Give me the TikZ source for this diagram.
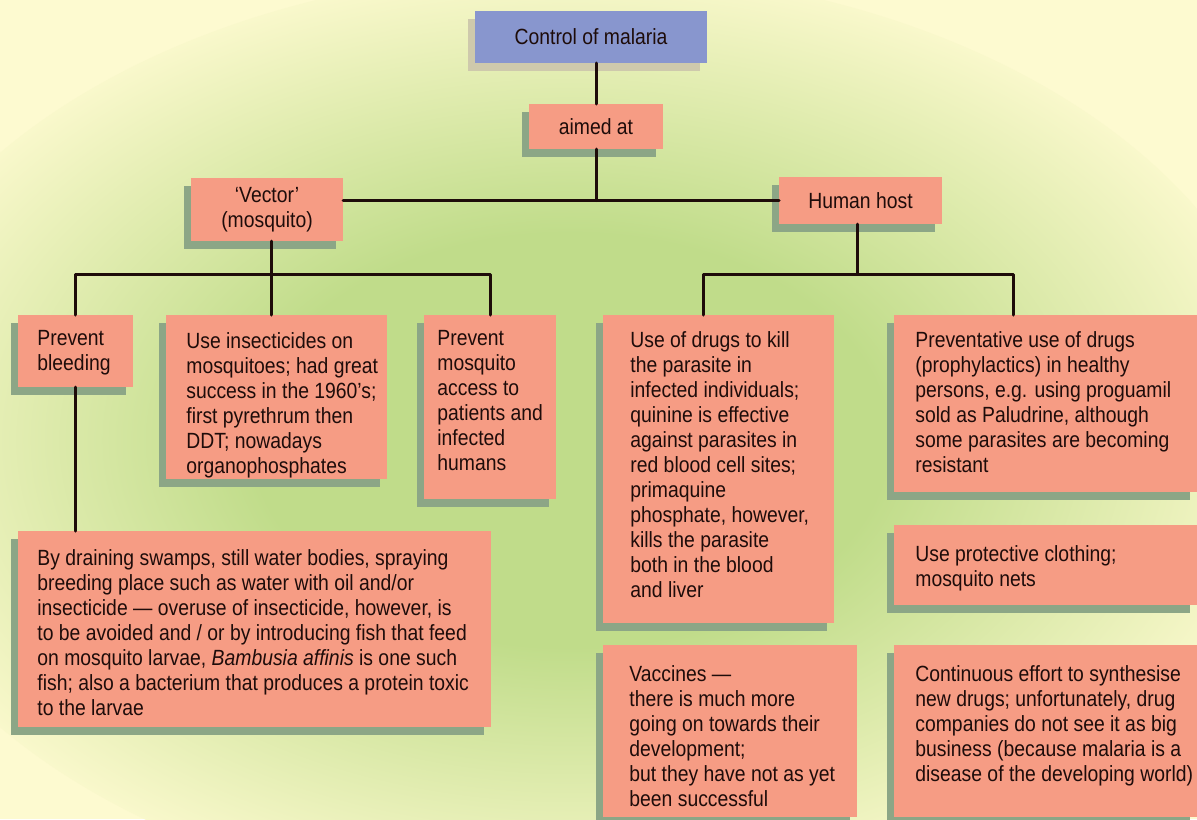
\documentclass[tikz,border=0pt]{standalone}
\usepackage{fontspec}
\setmainfont{Liberation Sans}[FakeStretch=0.88]
\usetikzlibrary{positioning}
\usetikzlibrary{shadows}

\definecolor{cream}{RGB}{253,250,208}
\definecolor{leaf}{RGB}{192,220,138}
\definecolor{salmon}{RGB}{246,156,132}
\definecolor{slate}{RGB}{136,150,206}
\definecolor{moss}{RGB}{140,166,134}
\definecolor{sand}{RGB}{206,201,172}
\definecolor{ink}{RGB}{30,12,10}
\pgfdeclareradialshading{meadow}{\pgfpoint{0bp}{0bp}}{color(0bp)=(leaf); color(11bp)=(leaf); color(26bp)=(cream); color(50bp)=(cream)}

\tikzset{
  card/.style={rectangle,inner sep=0pt,outer sep=0pt,anchor=north west},
  box/.style={card,fill=salmon,general shadow={fill=moss,shadow xshift=-3.5pt,shadow yshift=-4pt}},
  headbox/.style={card,fill=slate,general shadow={fill=sand,shadow xshift=-3.5pt,shadow yshift=-4pt}},
  txt/.style={inner sep=0pt,align=left,text=ink,font=\fontsize{11}{12.5}\selectfont},
  link/.style={draw=ink,line width=1.5pt}
}

\begin{document}
\begin{tikzpicture}[line cap=round,line join=round,x=0.5pt,y=-0.5pt]
\useasboundingbox (0,0) rectangle (1197,819);
% background with the green glow
\fill[cream] (0,0) rectangle (1197,819);
\begin{scope}
\clip (0,0) rectangle (1197,819);
\shade[shading=meadow] (570,440) ellipse (720 and 470);
\end{scope}

% boxes
\node[headbox,minimum width=116pt,minimum height=26pt] (title) at (475,11) {};
\node[box,minimum width=67pt,minimum height=22.5pt] (aim) at (529,104) {};
\node[box,minimum width=76pt,minimum height=31.5pt] (vec) at (191,178) {};
\node[box,minimum width=81.5pt,minimum height=23.5pt] (hum) at (779,177) {};
\node[box,minimum width=57.5pt,minimum height=36pt] (bleed) at (18,315) {};
\node[box,minimum width=110.5pt,minimum height=82pt] (insect) at (166,315) {};
\node[box,minimum width=66pt,minimum height=92pt] (mosq) at (424,315) {};
\node[box,minimum width=236.5pt,minimum height=98pt] (swamp) at (18,531) {};
\node[box,minimum width=115.5pt,minimum height=154pt] (drugs) at (603,315) {};
\node[box,minimum width=151.5pt,minimum height=88.5pt] (prev) at (894,315) {};
\node[box,minimum width=151.5pt,minimum height=40pt] (prot) at (894,525) {};
\node[box,minimum width=127pt,minimum height=86pt] (vacc) at (603,645) {};
\node[box,minimum width=151.5pt,minimum height=86pt] (cont) at (894,645) {};

% connectors
\coordinate (vbus) at (271,274);
\coordinate (hbus) at (857,274);
\coordinate (hl) at (703,274);
\coordinate (hr) at (1013,274);
\draw[link] (aim.north) -- (aim.north |- title.south);
\draw[link] (aim.south) -- (aim.south |- hum.west);
\draw[link] (vec.east |- hum.west) -- (hum.west);
\draw[link] (vbus |- vec.south) -- (vbus);
\draw[link] (bleed.north) |- (vbus) -| (mosq.north);
\draw[link] (vbus) -- (vbus |- insect.north);
\draw[link] (bleed.south) -- (bleed.south |- swamp.north);
\draw[link] (hbus |- hum.south) -- (hbus);
\draw[link] (hl |- drugs.north) -- (hl) -- (hr) -- (hr |- prev.north);

% labels
\node[txt,align=center] (titletxt) at (title.center) {Control of malaria};
\node[txt,align=center] (aimtxt) at (aim.center) {aimed at};
\node[txt,align=center] (vectxt) at (vec.center) {‘Vector’\\(mosquito)};
\node[txt,align=center] (humtxt) at (hum.center) {Human host};
\node[txt,below right=7.5pt and 9.5pt of bleed.north west] (bleedtxt) {Prevent\\bleeding};
\node[txt,below right=8.5pt and 10pt of insect.north west] (insecttxt) {Use insecticides on\\mosquitoes; had great\\success in the 1960’s;\\first pyrethrum then\\DDT; nowadays\\organophosphates};
\node[txt,below right=7.5pt and 6.5pt of mosq.north west] (mosqtxt) {Prevent\\mosquito\\access to\\patients and\\infected\\humans};
\node[txt,below right=9pt and 9.5pt of swamp.north west] (swamptxt) {By draining swamps, still water bodies, spraying\\breeding place such as water with oil and/or\\insecticide — overuse of insecticide, however, is\\to be avoided and / or by introducing fish that feed\\on mosquito larvae, \textit{Bambusia affinis} is one such\\fish; also a bacterium that produces a protein toxic\\to the larvae};
\node[txt,below right=8pt and 13.5pt of drugs.north west] (drugstxt) {Use of drugs to kill\\the parasite in\\infected individuals;\\quinine is effective\\against parasites in\\red blood cell sites;\\primaquine\\phosphate, however,\\kills the parasite\\both in the blood\\and liver};
\node[txt,below right=8pt and 10.5pt of prev.north west] (prevtxt) {Preventative use of drugs\\(prophylactics) in healthy\\persons, e.g. using proguamil\\sold as Paludrine, although\\some parasites are becoming\\resistant};
\node[txt,below right=10pt and 10.5pt of prot.north west] (prottxt) {Use protective clothing;\\mosquito nets};
\node[txt,below right=10pt and 13pt of vacc.north west] (vacctxt) {Vaccines —\\there is much more\\going on towards their\\development;\\but they have not as yet\\been successful};
\node[txt,below right=10pt and 10.5pt of cont.north west] (conttxt) {Continuous effort to synthesise\\new drugs; unfortunately, drug\\companies do not see it as big\\business (because malaria is a\\disease of the developing world)};
\end{tikzpicture}
\end{document}
